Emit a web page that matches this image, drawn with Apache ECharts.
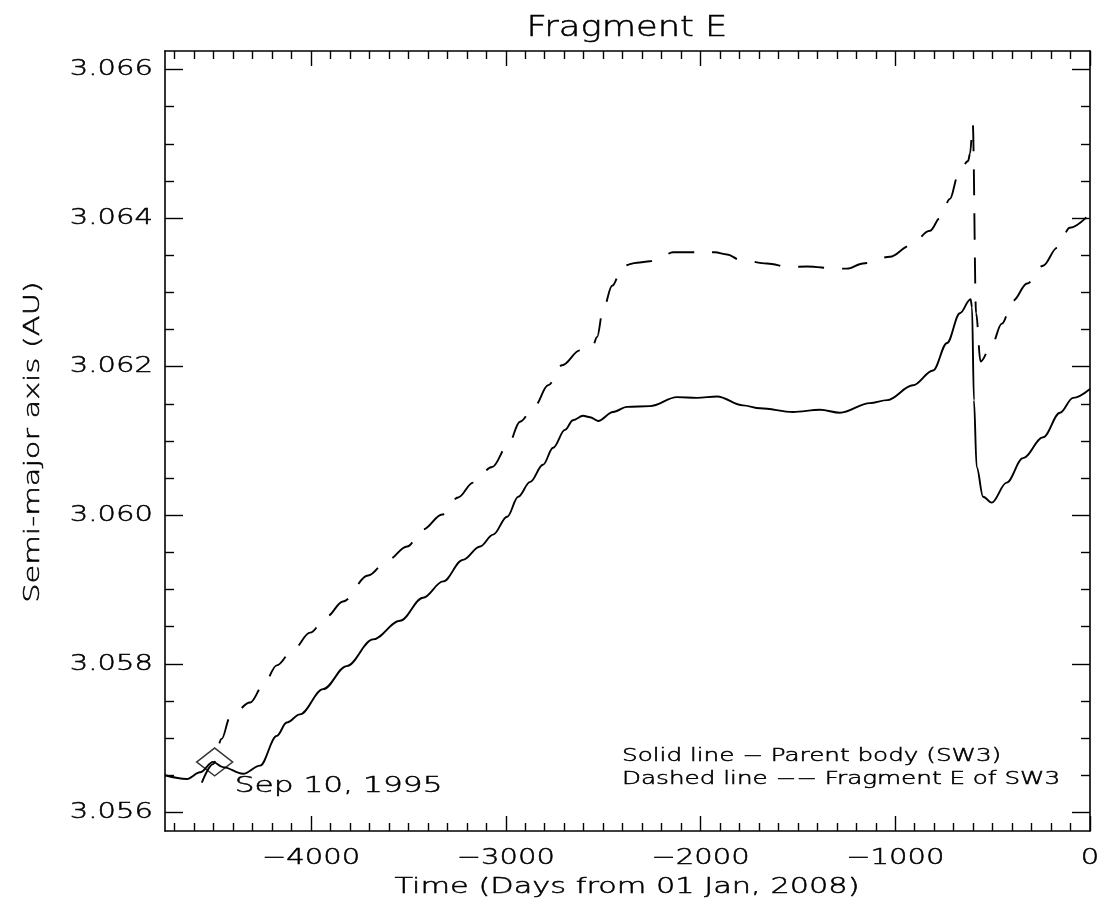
<!DOCTYPE html>
<html><head><meta charset="utf-8">
<script src="https://cdn.jsdelivr.net/npm/echarts@6/dist/echarts.min.js"></script>
<style>html,body{margin:0;padding:0;background:#fff}#c{width:1100px;height:907px}</style>
</head><body><div id="c"></div>
<script>
// ---- text ----
const titleText = 'Fragment E';
const xName = 'Time (Days from 01 Jan, 2008)';
const yName = 'Semi-major axis (AU)';
const legendLines = ['Solid line \u2212 Parent body (SW3)', 'Dashed line \u2212\u2212 Fragment E of SW3'];
const markerLabel = 'Sep 10, 1995';

// ---- axes ----
const xMin = -4750, xMax = 0;
const yMin = 3.05575, yMax = 3.06625;
const xMajorTicks = [-4000, -3000, -2000, -1000, 0];
const xMinorTicks = [-4700,-4600,-4500,-4400,-4300,-4200,-4100,
  -3900,-3800,-3700,-3600,-3500,-3400,-3300,-3200,-3100,
  -2900,-2800,-2700,-2600,-2500,-2400,-2300,-2200,-2100,
  -1900,-1800,-1700,-1600,-1500,-1400,-1300,-1200,-1100,
  -900,-800,-700,-600,-500,-400,-300,-200,-100];
const yMajorTicks = [3.056, 3.058, 3.060, 3.062, 3.064, 3.066];
const yMinorTicks = [3.0565,3.057,3.0575,3.0585,3.059,3.0595,3.0605,3.061,3.0615,
  3.0625,3.063,3.0635,3.0645,3.065,3.0655];

// ---- data: parent body (solid) ----
const solidDays = [-4750,-4638,-4570,-4503,-4453,-4349,-4262,-4176,-4125,-4057,-3938,-3817,-3682,-3543,-3425,-3322,-3220,-3132,-3065,-2993,-2936,-2875,-2809,-2757,-2696,-2655,-2603,-2567,-2526,-2449,-2377,-2259,-2121,-2018,-1915,-1782,-1694,-1525,-1386,-1284,-1130,-1042,-909,-806,-734,-668,-613,-606,-596,-582,-549,-505,-428,-344,-241,-154,-87,0];
const solidA = [3.05650,3.05645,3.05654,3.05668,3.05661,3.05652,3.05663,3.05703,3.05721,3.05732,3.05766,3.05797,3.05833,3.05858,3.05889,3.05911,3.05940,3.05958,3.05974,3.05998,3.06025,3.06045,3.06068,3.06091,3.06115,3.06128,3.06134,3.06132,3.06127,3.06139,3.06146,3.06147,3.06159,3.06158,3.06160,3.06148,3.06144,3.06139,3.06142,3.06138,3.06151,3.06155,3.06175,3.06195,3.06232,3.06272,3.06291,3.06280,3.06155,3.06065,3.06025,3.06017,3.06044,3.06077,3.06105,3.06138,3.06158,3.06170];

// ---- data: fragment E (dashed) ----
const dashDays = [-4561,-4503,-4459,-4416,-4313,-4247,-4176,-4092,-4005,-3919,-3836,-3707,-3605,-3507,-3425,-3327,-3245,-3168,-3070,-2988,-2927,-2850,-2783,-2711,-2619,-2557,-2531,-2501,-2454,-2398,-2326,-2259,-2208,-2141,-2090,-1926,-1864,-1797,-1659,-1540,-1453,-1299,-1248,-1166,-1027,-924,-822,-770,-719,-678,-626,-616,-602,-585,-562,-505,-453,-395,-323,-241,-169,-103,0];
const dashA = [3.05640,3.05665,3.05699,3.05728,3.05748,3.05770,3.05798,3.05819,3.05842,3.05864,3.05884,3.05919,3.05940,3.05958,3.05981,3.06001,3.06024,3.06044,3.06065,3.06095,3.06126,3.06148,3.06175,3.06202,3.06222,3.06225,3.06240,3.06276,3.06309,3.06336,3.06340,3.06342,3.06347,3.06354,3.06354,3.06354,3.06351,3.06344,3.06339,3.06334,3.06335,3.06332,3.06332,3.06339,3.06348,3.06363,3.06383,3.06400,3.06426,3.06457,3.06477,3.06487,3.06527,3.06272,3.06207,3.06229,3.06258,3.06289,3.06312,3.06336,3.06360,3.06387,3.06406];

// ---- marker ----
const markerDay = -4495;
const markerA = 3.05668;

const FONT = 'DejaVu Sans';
const ink = '#000';

function pairs(xs, ys) { return xs.map((x, i) => [x, ys[i]]); }
function xLab(v) { return v === 0 ? '0' : '\u2212' + Math.abs(v); }

function xAx(pos, ticks, len, line) {
  return {
    type: 'value', position: pos, min: xMin, max: xMax, gridIndex: 0,
    axisLine: { show: line, onZero: false, lineStyle: { color: ink, width: 1.6 } },
    axisTick: { show: true, inside: true, length: len, customValues: ticks, lineStyle: { color: ink, width: 1.4 } },
    axisLabel: { show: false },
    splitLine: { show: false }
  };
}
function yAx(pos, ticks, len, line) {
  return {
    type: 'value', position: pos, min: yMin, max: yMax, gridIndex: 0,
    axisLine: { show: line, onZero: false, lineStyle: { color: ink, width: 1.6 } },
    axisTick: { show: true, inside: true, length: len, customValues: ticks, lineStyle: { color: ink, width: 1.4 } },
    axisLabel: { show: false },
    splitLine: { show: false }
  };
}

const chart = echarts.init(document.getElementById('c'), null, { renderer: 'canvas' });
chart.setOption({
  animation: false,
  backgroundColor: '#fff',
  grid: { left: 165, right: 10, top: 51, bottom: 76, containLabel: false },
  xAxis: [
    xAx('bottom', xMajorTicks, 15, true),
    xAx('bottom', xMinorTicks, 8, false),
    xAx('top', xMajorTicks, 15, true),
    xAx('top', xMinorTicks, 8, false)
  ],
  yAxis: [
    yAx('left', yMajorTicks, 18, true),
    yAx('left', yMinorTicks, 9, false),
    yAx('right', yMajorTicks, 18, true),
    yAx('right', yMinorTicks, 9, false)
  ],
  series: [
    { type: 'line', name: 'Parent body (SW3)', data: pairs(solidDays, solidA), showSymbol: false,
      smooth: 0.35, smoothMonotone: 'x', lineStyle: { color: ink, width: 1.9 }, z: 3 },
    { type: 'line', name: 'Fragment E of SW3', data: pairs(dashDays, dashA), showSymbol: false,
      smooth: 0.35, smoothMonotone: 'x', lineStyle: { color: ink, width: 1.9, type: [26, 18] }, z: 3 },
    { type: 'scatter', data: [[markerDay, markerA]], symbol: 'diamond', symbolSize: [36, 28],
      itemStyle: { color: 'rgba(0,0,0,0)', borderColor: ink, borderWidth: 1.5 }, z: 4 }
  ]
});

const txt = (x, y, text, size, sx, align, rot) => ({
  type: 'text', x: x, y: y, scaleX: sx, rotation: rot || 0, z: 10,
  style: { text: text, fill: ink, stroke: ink, lineWidth: 0.5,
    font: '300 ' + size + 'px "' + FONT + '"', textAlign: align, textVerticalAlign: 'middle' }
});

// tick labels placed through the axes' own scales
const labels = [];
xMajorTicks.forEach(v => {
  const px = chart.convertToPixel({ xAxisIndex: 0 }, v);
  labels.push(txt(px, 858, xLab(v), 22, 1.32, 'center'));
});
yMajorTicks.forEach(v => {
  const py = chart.convertToPixel({ yAxisIndex: 0 }, v);
  labels.push(txt(153, py, v.toFixed(3), 22, 1.32, 'right'));
});
const mp = chart.convertToPixel({ seriesIndex: 2 }, [markerDay, markerA]);

chart.setOption({
  graphic: labels.concat([
    txt(627, 29, titleText, 28, 1.26, 'center'),
    txt(627, 887, xName, 22, 1.38, 'center'),
    txt(33, 442, yName, 22, 1.38, 'center', Math.PI / 2),
    txt(622, 757, legendLines[0], 17, 1.45, 'left'),
    txt(622, 780, legendLines[1], 17, 1.45, 'left'),
    txt(mp[0] + 20, mp[1] + 24, markerLabel, 22, 1.42, 'left')
  ])
});
</script></body></html>
